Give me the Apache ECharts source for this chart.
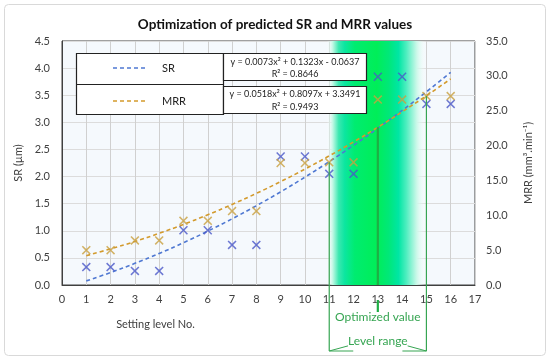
<!DOCTYPE html>
<html><head><meta charset="utf-8">
<script src="https://cdn.jsdelivr.net/npm/echarts@6/dist/echarts.min.js"></script>
<style>html,body{margin:0;padding:0;background:#fff}#c{width:550px;height:360px}</style>
</head><body><div id="c"></div>
<script>
const levels = [1,2,3,4,5,6,7,8,9,10,11,12,13,14,15,16];
const srValues = [0.33,0.33,0.26,0.26,1.01,1.01,0.74,0.74,2.37,2.37,2.05,2.05,3.84,3.84,3.34,3.34];
const mrrValues = [5.0,5.0,6.4,6.4,9.2,9.2,10.6,10.6,17.5,17.5,17.6,17.6,26.6,26.6,27.1,27.1];
const srTrend = [0.076,0.230,0.399,0.582,0.780,0.993,1.220,1.462,1.718,1.989,2.275,2.575,2.890,3.219,3.563,3.922];
const mrrTrend = [4.21,5.18,6.24,7.42,8.69,10.07,11.56,13.14,14.83,16.63,18.52,20.52,22.63,24.84,27.15,29.57];
const levelRange = [11,15];
const optimizedLevel = 13;
const optimizedMRR = 22.63;
const title = 'Optimization of predicted SR and MRR values';
const srEq = ['y = 0.0073x\u00B2 + 0.1323x - 0.0637','R\u00B2 = 0.8646'];
const mrrEq = ['y = 0.0518x\u00B2 + 0.8097x + 3.3491','R\u00B2 = 0.9493'];

const FONT = 'Lato';
const TXT = '#404040';
const SR_C = '#4a57c8', MRR_C = '#c9a040';
const SR_L = '#4f78d2', MRR_L = '#d39a2c';
const GREEN = '#36a552';
const xCross = 'path://M0,1.2L1.2,0L5,3.8L8.8,0L10,1.2L6.2,5L10,8.8L8.8,10L5,6.2L1.2,10L0,8.8L3.8,5Z';

const chart = echarts.init(document.getElementById('c'));
const zip = (a,b)=>a.map((v,i)=>[v,b[i]]);
chart.setOption({
  animation:false,
  textStyle:{fontFamily:FONT},
  title:{text:title,left:'center',top:13,textStyle:{fontFamily:FONT,fontSize:13.5,fontWeight:'bold',color:'#111'}},
  grid:{left:62,right:75,top:41,bottom:75,show:true,borderColor:'#404040',borderWidth:1,backgroundColor:'#f5f9fd'},
  xAxis:{type:'value',min:0,max:17,interval:1,
    name:'Setting level No.',nameLocation:'middle',nameGap:34,
    nameTextStyle:{fontFamily:FONT,fontSize:11,color:TXT,padding:[0,226,0,0]},
    axisLine:{show:true,lineStyle:{color:'#404040'}},axisTick:{show:false},
    axisLabel:{color:TXT,fontSize:11,fontFamily:FONT,margin:9},
    splitLine:{show:true,lineStyle:{color:'#d0d0d0'}}},
  yAxis:[
    {type:'value',min:0,max:4.5,interval:0.5,position:'left',
     name:'SR (\u00B5m)',nameLocation:'middle',nameGap:34,nameRotate:90,
     nameTextStyle:{fontFamily:FONT,fontSize:11,color:TXT},
     axisLine:{show:true,lineStyle:{color:'#404040'}},axisTick:{show:false},
     axisLabel:{color:TXT,fontSize:11,fontFamily:FONT,margin:12,formatter:v=>v.toFixed(1)},
     splitLine:{show:true,lineStyle:{color:'#dcdcdc'}}},
    {type:'value',min:0,max:35,interval:5,position:'right',
     name:'MRR (mm\u00B3.min\u207B\u00B9)',nameLocation:'middle',nameGap:48,nameRotate:90,
     nameTextStyle:{fontFamily:FONT,fontSize:11,color:TXT},
     axisLine:{show:false},axisTick:{show:false},
     axisLabel:{color:TXT,fontSize:11,fontFamily:FONT,margin:11,formatter:v=>v.toFixed(1)},
     splitLine:{show:false}}
  ],
  series:[
    {type:'line',data:[],z:1,silent:true,
     markArea:{silent:true,itemStyle:{opacity:1,color:{type:'linear',x:0,y:0,x2:1,y2:0,colorStops:[
        {offset:0,color:'rgba(255,255,255,0)'},
        {offset:0.06,color:'#bff8e4'},
        {offset:0.12,color:'#3ae8b0'},
        {offset:0.18,color:'#0ce6a0'},
        {offset:0.28,color:'#00ec70'},
        {offset:0.5,color:'#00ee58'},
        {offset:0.62,color:'#00e878'},
        {offset:0.72,color:'#00e6a4'},
        {offset:0.8,color:'#50eec0'},
        {offset:0.9,color:'#c8f8e8'},
        {offset:1,color:'rgba(255,255,255,0)'}]}},
      data:[[{xAxis:levelRange[0]-0.1},{xAxis:levelRange[1]}]]}},
    {type:'line',name:'SR fit',yAxisIndex:0,data:zip(levels,srTrend),smooth:true,showSymbol:false,z:3,
     lineStyle:{color:SR_L,width:1.6,type:[4,3]}},
    {type:'line',name:'MRR fit',yAxisIndex:1,data:zip(levels,mrrTrend),smooth:true,showSymbol:false,z:3,
     lineStyle:{color:MRR_L,width:1.6,type:[4,3]}},
    {type:'scatter',name:'SR',yAxisIndex:0,data:zip(levels,srValues),symbol:xCross,symbolSize:9,z:4,
     itemStyle:{color:SR_C}},
    {type:'scatter',name:'MRR',yAxisIndex:1,data:zip(levels,mrrValues),symbol:xCross,symbolSize:9,z:4,
     itemStyle:{color:MRR_C}}
  ]
});

const P = (x,y)=>chart.convertToPixel({xAxisIndex:0,yAxisIndex:1},[x,y]);
const x11 = P(levelRange[0],0)[0], x15 = P(levelRange[1],0)[0], x13 = P(optimizedLevel,0)[0];
const yAxis0 = P(0,0)[1];
const top11 = P(levelRange[0],mrrValues[levelRange[0]-1])[1];
const top15 = P(levelRange[1],mrrValues[levelRange[1]-1])[1];
const top13 = P(optimizedLevel,optimizedMRR)[1];
const yb = 351;
const g = [];
const ln = (x1,y1,x2,y2,w,c)=>({type:'line',z:100,shape:{x1,y1,x2,y2},style:{stroke:c||GREEN,lineWidth:w||1}});
g.push({type:'rect',z:0,shape:{x:4.5,y:4.5,width:541,height:351,r:4},style:{fill:null,stroke:'#d9d9d9',lineWidth:1}});
g.push(ln(x11,top11,x11,yb,1.2));
g.push(ln(x15,top15,x15,yb,1.2));
g.push(ln(x13,top13,x13,yAxis0,2.2,'#1fae45'));
g.push(ln(x13,yAxis0+15,x13,yAxis0+27,2.2,'#1fae45'));
g.push(ln(x11,yb,x11+22,yb-6,1));
g.push(ln(x11,yb,x11+24,yb,1));
g.push(ln(x15,yb,x15-22,yb-6,1));
g.push(ln(x15,yb,x15-24,yb,1));
g.push({type:'text',z:101,style:{text:'Optimized value',x:(x11+x15)/2,y:317,align:'center',verticalAlign:'middle',fill:GREEN,font:'12px '+FONT}});
g.push({type:'text',z:101,style:{text:'Level range',x:(x11+x15)/2,y:341,align:'center',verticalAlign:'middle',fill:GREEN,font:'12px '+FONT,backgroundColor:'#fff'}});
g.push({type:'rect',z:100,shape:{x:76.5,y:53.5,width:147,height:61},style:{fill:'#fff',stroke:'#222',lineWidth:1.2}});
g.push(ln(76.5,84.5,223.5,84.5,1.2,'#222'));
g.push({type:'line',z:101,shape:{x1:113,y1:68,x2:145,y2:68},style:{stroke:SR_L,lineWidth:1.6,lineDash:[4,3]}});
g.push({type:'line',z:101,shape:{x1:113,y1:101,x2:145,y2:101},style:{stroke:MRR_L,lineWidth:1.6,lineDash:[4,3]}});
g.push({type:'text',z:101,style:{text:'SR',x:162,y:68,verticalAlign:'middle',fill:'#222',font:'11px '+FONT}});
g.push({type:'text',z:101,style:{text:'MRR',x:162,y:101,verticalAlign:'middle',fill:'#222',font:'11px '+FONT}});
g.push({type:'rect',z:100,shape:{x:223.5,y:53.5,width:143,height:27},style:{fill:'#fff',stroke:'#222',lineWidth:1.2}});
g.push({type:'rect',z:100,shape:{x:223.5,y:86.5,width:143,height:27},style:{fill:'#fff',stroke:'#222',lineWidth:1.2}});
g.push({type:'text',z:101,style:{text:srEq[0],x:295,y:62,align:'center',verticalAlign:'middle',fill:'#222',font:'9px '+FONT}});
g.push({type:'text',z:101,style:{text:srEq[1],x:295,y:74,align:'center',verticalAlign:'middle',fill:'#222',font:'9px '+FONT}});
g.push({type:'text',z:101,style:{text:mrrEq[0],x:295,y:94.5,align:'center',verticalAlign:'middle',fill:'#222',font:'9px '+FONT}});
g.push({type:'text',z:101,style:{text:mrrEq[1],x:295,y:107,align:'center',verticalAlign:'middle',fill:'#222',font:'9px '+FONT}});
chart.setOption({graphic:g});
</script></body></html>
